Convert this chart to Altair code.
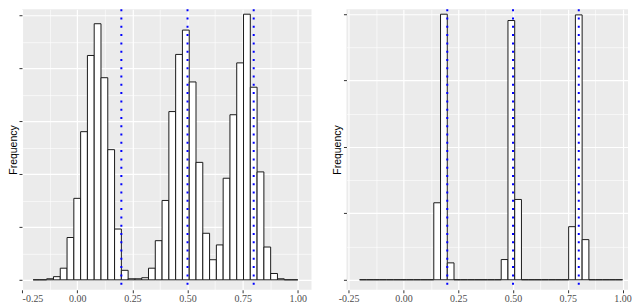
import altair as alt
import pandas as pd

# ---- data ----
BIN_START = -0.2
BIN_END = 1.0
N_BINS = 39

left_counts = [0, 0, 1, 3, 11, 40, 77, 140, 212, 242, 191, 123, 48, 9,
               1, 1, 2, 11, 37, 75, 159, 213, 236, 187, 111, 44, 19,
               33, 96, 156, 205, 251, 182, 102, 31, 6, 1, 0, 0]
right_counts = [0, 0, 0, 0, 0, 0, 0, 0, 0, 0, 0, 232, 800, 51,
                0, 0, 0, 0, 0, 0, 0, 61, 781, 242, 0, 0, 0,
                0, 0, 0, 0, 160, 798, 121, 0, 0, 0, 0, 0]
true_values = [0.2, 0.5, 0.8]

x_major = [-0.25, 0.0, 0.25, 0.5, 0.75, 1.0]
x_minor = [-0.125, 0.125, 0.375, 0.625, 0.875]
left_y_major = [0, 50, 100, 150, 200, 250]
left_y_minor = [25, 75, 125, 175, 225]
right_y_major = [0, 200, 400, 600, 800]
right_y_minor = [100, 300, 500, 700]

LEFT_X_DOMAIN = [-0.2505, 1.0621]
RIGHT_X_DOMAIN = [-0.26, 1.0247]
LEFT_Y_DOMAIN = [-9.4, 255.7]
RIGHT_Y_DOMAIN = [-30.1, 815]

width_bin = (BIN_END - BIN_START) / N_BINS


def hist_frame(counts):
    lo = [BIN_START + k * width_bin for k in range(N_BINS)]
    hi = [v + width_bin for v in lo]
    return pd.DataFrame({"lo": lo, "hi": hi, "count": counts})


lines_df = pd.DataFrame({"v": true_values})

MAJOR_X = "abs(datum.value*4 - round(datum.value*4)) < 1e-6"


def make_x_axis():
    return alt.Axis(
        values=sorted(x_major + x_minor),
        title=None,
        domain=False,
        tickSize=3,
        tickColor="#333333",
        tickOpacity={"condition": {"test": MAJOR_X, "value": 1}, "value": 0},
        grid=True,
        gridColor="#FFFFFF",
        gridWidth={"condition": {"test": MAJOR_X, "value": 1.2}, "value": 0.6},
        labelExpr=MAJOR_X + " ? (datum.value < 0 ? '-' + format(-datum.value, '.2f') : format(datum.value, '.2f')) : ''",
        labelFont="Liberation Serif",
        labelFontSize=10,
        labelColor="#4D4D4D",
        labelPadding=1,
    )


def y_axis(step, values):
    test = f"abs(datum.value % {step}) < 1e-6"
    return alt.Axis(
        values=values,
        title="Frequency",
        labels=False,
        domain=False,
        tickSize=3,
        tickColor="#333333",
        tickOpacity={"condition": {"test": test, "value": 1}, "value": 0},
        grid=True,
        gridColor="#FFFFFF",
        gridWidth={"condition": {"test": test, "value": 1.2}, "value": 0.6},
        titleFont="Liberation Sans",
        titleFontSize=10.5,
        titleFontWeight="normal",
        titleColor="#000000",
        titlePadding=0,
    )


def panel(counts, x_domain, y_domain, step, yvals, w):
    xs = alt.Scale(domain=x_domain, nice=False, zero=False)
    ys = alt.Scale(domain=y_domain, nice=False, zero=False)
    bars = alt.Chart(hist_frame(counts)).mark_rect(
        fill="#FFFFFF", stroke="#1A1A1A", strokeWidth=1
    ).encode(
        x=alt.X("lo:Q", scale=xs, axis=make_x_axis()),
        x2="hi:Q",
        y=alt.Y("count:Q", scale=ys, axis=y_axis(step, yvals)),
        y2=alt.datum(0),
    )
    rules = alt.Chart(lines_df).mark_rule(
        color="#0000FF", strokeWidth=2, strokeDash=[2, 6.3], strokeCap="butt"
    ).encode(x=alt.X("v:Q", scale=xs, axis=make_x_axis()))
    return alt.layer(bars, rules).properties(width=w, height=281)


left = panel(left_counts, LEFT_X_DOMAIN, LEFT_Y_DOMAIN, 50,
             sorted(left_y_major + left_y_minor), 290)
right = panel(right_counts, RIGHT_X_DOMAIN, RIGHT_Y_DOMAIN, 200,
              sorted(right_y_major + right_y_minor), 282)

chart = alt.hconcat(left, right, spacing=35, bounds="flush").properties(
    padding={"left": 0, "top": 0, "right": 0, "bottom": 0}
).configure_view(fill="#EBEBEB", stroke=None)

chart.save("out.html", embed_options={"renderer": "svg", "actions": False})
